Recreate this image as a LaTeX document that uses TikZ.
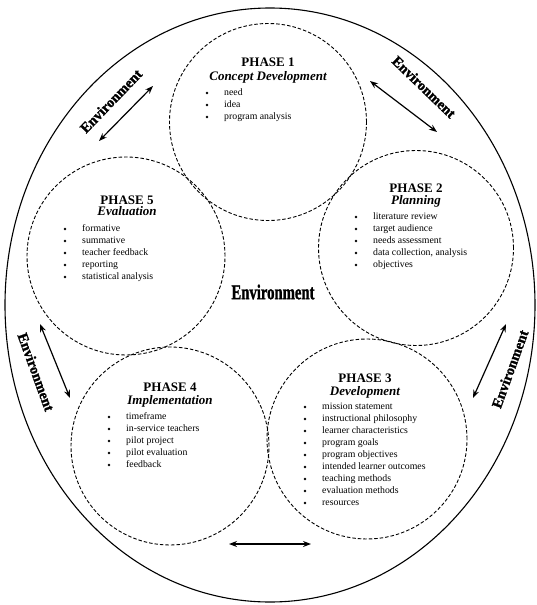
\documentclass[tikz,border=0pt]{standalone}
\usepackage{fontspec}
\setmainfont{Liberation Serif}
\newfontfamily\envfont[BoldFeatures={FakeBold=1.5}]{Liberation Serif}
\usetikzlibrary{arrows.meta}
\tikzset{
  phase/.style={circle, draw, dash pattern=on 3.5pt off 2pt, line width=0.9pt, minimum size=#1, inner sep=0pt},
  outer/.style={draw, line width=1.1pt},
  phasetitle/.style={font=\fontsize{13}{13}\selectfont\bfseries, inner sep=0pt},
  phasesub/.style={font=\fontsize{13}{13}\selectfont\bfseries\itshape, inner sep=0pt, anchor=mid},
  itemtext/.style={font=\fontsize{9.8}{12}\selectfont, inner sep=0pt, anchor=mid west},
  envlabel/.style={font=\envfont\fontsize{14.5}{14.5}\selectfont\bfseries, inner sep=0pt},
  envarrow/.style={{Stealth[length=8pt,width=6pt]}-{Stealth[length=8pt,width=6pt]}, line width=1.2pt}
}
\newcommand\phaseitems[4]{%
  \foreach \t [count=\i] in {#4} {
    \fill (#2, #3+12*\i-12) circle[radius=1.4pt];
    \node[itemtext] (#1-\i) at (#2+17, #3+12*\i-12) {\t};
  }}
\begin{document}
\begin{tikzpicture}[x=1pt, y=-1pt]
\useasboundingbox (0,0) rectangle (536,605);
% outer environment
\draw[outer] (270,305) ellipse [x radius=265pt, y radius=297pt];
% phase circles
\node[phase=197pt] (p1) at (268,122) {};
\node[phase=195pt] (p2) at (416,248) {};
\node[phase=200pt] (p3) at (367,439) {};
\node[phase=198pt] (p4) at (170,446) {};
\node[phase=198pt] (p5) at (126,256) {};
% Phase 1
\node[phasetitle] (t1) at (268,62) {PHASE 1};
\node[phasesub] (s1) at (268,78) {Concept Development};
\phaseitems{i1}{207}{93}{need, idea, program analysis}
% Phase 2
\node[phasetitle] (t2) at (416,188) {PHASE 2};
\node[phasesub] (s2) at (416,202) {Planning};
\phaseitems{i2}{356}{217}{literature review, target audience, needs assessment, {data collection, analysis}, objectives}
% Phase 3
\node[phasetitle] (t3) at (365,378) {PHASE 3};
\node[phasesub] (s3) at (365,393) {Development};
\phaseitems{i3}{305}{407}{mission statement, instructional philosophy, learner characteristics, program goals, program objectives, intended learner outcomes, teaching methods, evaluation methods, resources}
% Phase 4
\node[phasetitle] (t4) at (170,387) {PHASE 4};
\node[phasesub] (s4) at (170,402) {Implementation};
\phaseitems{i4}{109}{417}{timeframe, in-service teachers, pilot project, pilot evaluation, feedback}
% Phase 5
\node[phasetitle] (t5) at (127,200) {PHASE 5};
\node[phasesub] (s5) at (127,213) {Evaluation};
\phaseitems{i5}{65}{229}{formative, summative, teacher feedback, reporting, statistical analysis}
% centre label
\node[inner sep=0pt] (envc) at (273,292) {\scalebox{0.7}[1]{\envfont\fontsize{21}{21}\selectfont\bfseries Environment}};
% environment labels
\node[envlabel, rotate=46] (envtl) at (111,101) {Environment};
\node[envlabel, rotate=-44] (envtr) at (424,87) {Environment};
\node[envlabel, rotate=-70] (envl) at (36,372) {Environment};
\node[envlabel, rotate=70] (envr) at (510,369) {Environment};
% arrows
\coordinate (atl1) at (99,141);  \coordinate (atl2) at (153,86);
\coordinate (atr1) at (370,81);  \coordinate (atr2) at (437,132);
\coordinate (al1) at (40,324);   \coordinate (al2) at (70,398);
\coordinate (ar1) at (506,324);  \coordinate (ar2) at (473,398);
\coordinate (ab1) at (229,544);  \coordinate (ab2) at (311,544);
\draw[envarrow] (atl1) -- (atl2);
\draw[envarrow] (atr1) -- (atr2);
\draw[envarrow] (al1) -- (al2);
\draw[envarrow] (ar1) -- (ar2);
\draw[envarrow] (ab1) -- (ab2);
\end{tikzpicture}
\end{document}
